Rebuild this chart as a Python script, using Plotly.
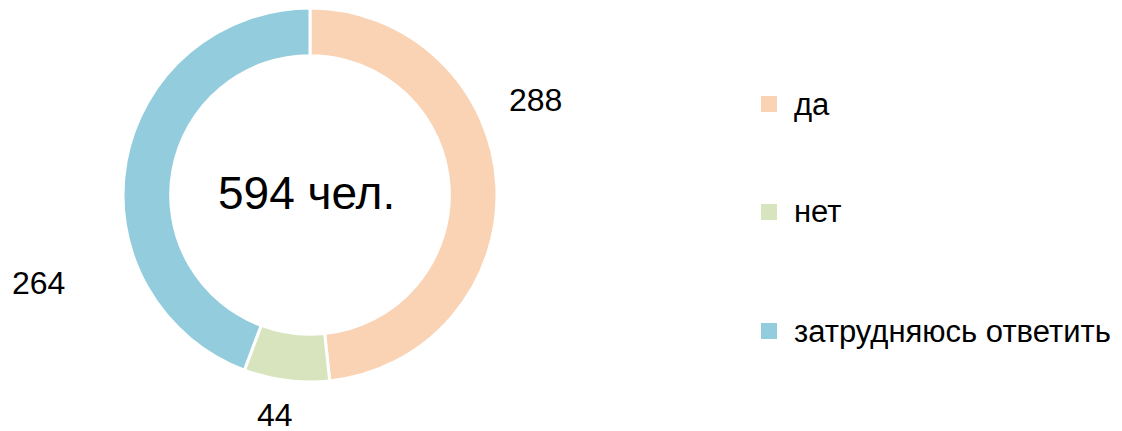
import plotly.graph_objects as go

labels = ["да", "нет", "затрудняюсь ответить"]
values = [288, 44, 264]
colors = ["#FAD3B5", "#D7E4BD", "#93CDDD"]
total_label = "594 чел."

W, H = 1122, 431
OFF = 8  # page body margin
cx, cy, R = 310 - OFF, 195 - OFF, 187


def px(x):
    return (x - OFF) / W


def py(y):
    return 1 - (y - OFF) / H


fig = go.Figure()
fig.add_trace(go.Pie(
    labels=labels, values=values, hole=0.745, sort=False, direction="clockwise",
    rotation=0, marker=dict(colors=colors, line=dict(color="white", width=3)),
    textinfo="none", hoverinfo="label+value", showlegend=False,
    domain=dict(x=[(cx - R) / W, (cx + R) / W],
                y=[max(0, (H - cy - R) / H), min(1, (H - cy + R) / H)]),
))

font = "Liberation Sans, Arial, sans-serif"
# data labels
label_pos = [(535, 100), (275, 415), (38, 283)]
for v, (x, y) in zip(values, label_pos):
    fig.add_annotation(x=px(x), y=py(y), xref="paper", yref="paper", text=str(v),
                       xanchor="center", yanchor="middle",
                       showarrow=False, font=dict(family=font, size=32, color="black"))
# center text
fig.add_annotation(x=px(306), y=py(193), xref="paper", yref="paper", text=total_label,
                   xanchor="center", yanchor="middle",
                   showarrow=False, font=dict(family=font, size=46, color="black"))
# legend
leg_y = [104, 212, 331]
for lab, col, y in zip(labels, colors, leg_y):
    fig.add_shape(type="rect", xref="paper", yref="paper",
                  x0=px(761), x1=px(777), y0=py(y - 8), y1=py(y + 8),
                  fillcolor=col, line=dict(width=0))
    fig.add_annotation(x=px(792), y=py(y), xref="paper", yref="paper", text=lab,
                       xanchor="left", yanchor="middle", showarrow=False,
                       font=dict(family=font, size=31, color="black"))

fig.update_layout(width=W, height=H, margin=dict(l=0, r=0, t=0, b=0),
                  paper_bgcolor="white", plot_bgcolor="white")
fig.write_html("out.html")
